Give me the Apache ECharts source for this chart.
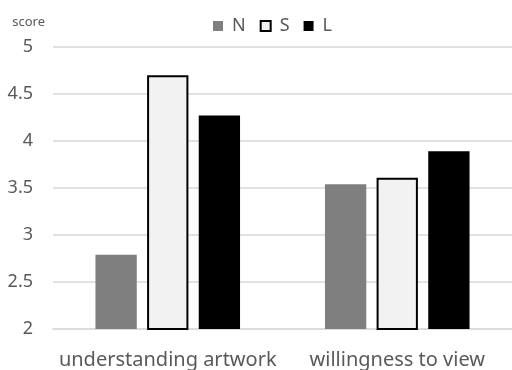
<!DOCTYPE html>
<html>
<head>
<meta charset="utf-8">
<script src="https://cdn.jsdelivr.net/npm/echarts@6/dist/echarts.min.js"></script>
<style>html,body{margin:0;padding:0;background:#fff;}#c{width:512px;height:370px;}</style>
</head>
<body>
<div id="c"></div>
<script>
const categories = ['understanding artwork', 'willingness to view'];
const seriesNames = ['N', 'S', 'L'];
const valuesN = [2.79, 3.54];
const valuesS = [4.70, 3.61];
const valuesL = [4.27, 3.89];
const yMin = 2, yMax = 5, yStep = 0.5;

const font = '"Noto Sans", sans-serif';
const chart = echarts.init(document.getElementById('c'), null, {renderer: 'canvas'});
chart.setOption({
  animation: false,
  textStyle: {fontFamily: font},
  legend: {
    data: seriesNames.map(n => n === 'S'
      ? {name: n, icon: 'rect', itemStyle: {borderWidth: 2, borderColor: '#000', color: '#f2f2f2'}}
      : {name: n, icon: 'rect'}),
    top: 12,
    left: 208,
    itemWidth: 10,
    itemHeight: 10,
    itemGap: 14,
    textStyle: {fontSize: 18, color: '#595959', fontFamily: font, padding: [0, 0, 0, 4]}
  },
  grid: {left: 53, right: 0, top: 47, bottom: 41, containLabel: false},
  xAxis: {
    type: 'category',
    data: categories,
    axisLine: {lineStyle: {color: '#d9d9d9', width: 1.5}},
    axisTick: {show: false},
    axisLabel: {interval: 0, fontSize: 20, color: '#595959', margin: 21, fontFamily: font}
  },
  yAxis: {
    type: 'value',
    min: yMin, max: yMax, interval: yStep,
    name: 'score',
    nameLocation: 'end',
    nameGap: 18,
    nameTextStyle: {fontSize: 13, color: '#595959', align: 'right', padding: [0, 8, 0, 0], fontFamily: font},
    axisLine: {show: false},
    axisTick: {show: false},
    splitLine: {lineStyle: {color: '#d9d9d9', width: 1.5}},
    axisLabel: {fontSize: 18, color: '#595959', margin: 20, fontFamily: font}
  },
  series: [
    {name: 'N', type: 'bar', data: valuesN, barGap: '25%', barCategoryGap: '37%',
     itemStyle: {color: '#7f7f7f'}},
    {name: 'S', type: 'bar', data: valuesS, barGap: '25%', barCategoryGap: '37%',
     itemStyle: {color: '#f2f2f2', borderColor: '#000', borderWidth: 2}},
    {name: 'L', type: 'bar', data: valuesL, barGap: '25%', barCategoryGap: '37%',
     itemStyle: {color: '#000'}}
  ]
});
</script>
</body>
</html>
